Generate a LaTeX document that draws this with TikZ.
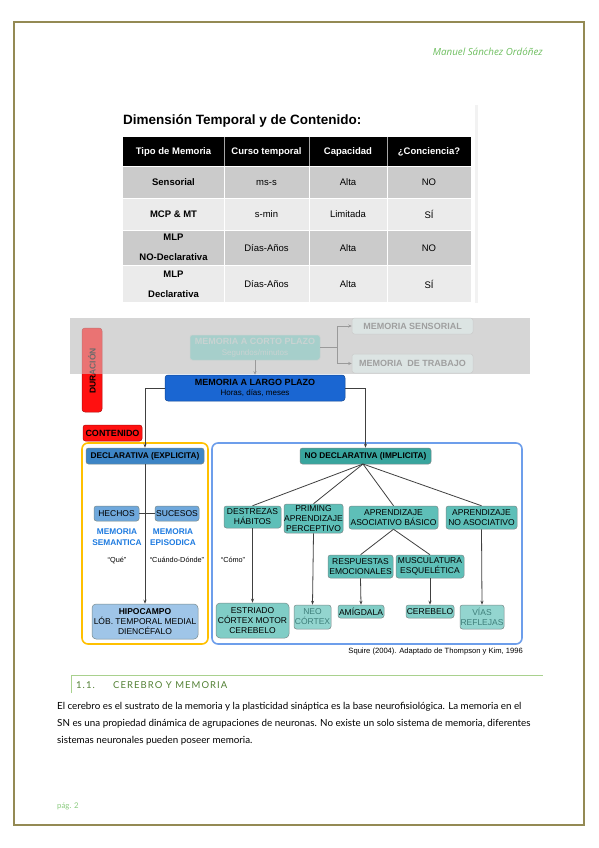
\documentclass[tikz,border=0pt]{standalone}
\usepackage{fontspec}
\setmainfont{Liberation Sans}
\newfontfamily\bodyfont{Lato}
\newfontfamily\hdrfont{Open Sans}
\usetikzlibrary{arrows.meta}
\definecolor{pageframe}{HTML}{948A54}
\definecolor{hdrgreen}{HTML}{6DBE5E}
\definecolor{secgreen}{HTML}{538135}
\definecolor{secline}{HTML}{A9D18E}
\definecolor{bandgray}{HTML}{D6D6D6}
\definecolor{rowdark}{HTML}{CBCBCB}
\definecolor{rowlight}{HTML}{EBEBEB}
\definecolor{redbox}{HTML}{FF1010}
\definecolor{mlpblue}{HTML}{1A66D2}
\definecolor{declblue}{HTML}{3D85C6}
\definecolor{midblue}{HTML}{6FA8DC}
\definecolor{lightblue}{HTML}{9FC5E8}
\definecolor{semblue}{HTML}{1E7BE0}
\definecolor{frameyellow}{HTML}{FFC000}
\definecolor{frameblue}{HTML}{6D9EEB}
\definecolor{tealdark}{HTML}{38A59E}
\definecolor{tealmid}{HTML}{5EBFB8}
\definecolor{teallight}{HTML}{80CDC6}
\definecolor{tealpale}{HTML}{93D5CF}
\definecolor{tealtext}{HTML}{3F7F7A}
\definecolor{bordergray}{HTML}{7A8A8A}
\definecolor{linegray}{HTML}{404040}
\definecolor{fadefill}{HTML}{A6CFCB}
\definecolor{fadetext}{HTML}{C9D3D2}
\definecolor{fadebox}{HTML}{DCE4E3}
\definecolor{fadeline}{HTML}{9A9A9A}
\begin{document}
\begin{tikzpicture}[x=1pt,y=-1pt,
  dbox/.style={draw=bordergray, line width=0.5pt, rounded corners=2.5pt, align=center, inner sep=0pt, font=\fontsize{8.5}{10}\selectfont},
  tealbox/.style={dbox, fill=tealmid},
  tbot/.style={dbox, fill=teallight},
  conn/.style={draw=linegray, line width=0.8pt},
  arr/.style={conn, -{Stealth[length=4pt,width=3pt]}},
  farr/.style={draw=fadeline, line width=0.7pt, -{Stealth[length=3.5pt,width=3pt]}},
  thdr/.style={text=white, font=\fontsize{9.5}{11}\selectfont\bfseries, align=center, inner sep=0pt},
  tcell/.style={font=\fontsize{9.5}{19.5}\selectfont, align=center, inner sep=0pt},
  tfirst/.style={tcell, font=\fontsize{9.5}{20}\selectfont\bfseries},
  lbl/.style={inner sep=0pt, align=center},
  bodytxt/.style={lbl, anchor=west, font=\bodyfont\fontsize{9.8}{11}\selectfont}
]
\useasboundingbox (0,0) rectangle (599,848);
\fill[white] (0,0) rectangle (599,848);
% page frame
\draw[pageframe, line width=2pt] (14,22) rectangle (584,825);
\node[lbl, anchor=east, text=hdrgreen, font=\hdrfont\itshape\fontsize{9.8}{10}\selectfont] (author) at (543,52) {Manuel Sánchez Ordóñez};

% ---------- table ----------
\fill[gray!10] (475,105) rectangle (478,303);
\node[lbl, anchor=west, font=\fontsize{13.5}{15}\selectfont\bfseries] (ttitle) at (123,121) {Dimensión Temporal y de Contenido:};
\fill[black] (123,137) rectangle (471,166);
\fill[rowdark] (123,166) rectangle (471,198);
\fill[rowlight] (123,198) rectangle (471,230);
\fill[rowdark] (123,230) rectangle (471,265);
\fill[rowlight] (123,265) rectangle (471,302);
\foreach \cx in {224,309,387}{
  \draw[gray!70, line width=0.8pt] (\cx,137) -- (\cx,166);
  \draw[white, line width=0.6pt] (\cx,166) -- (\cx,302);
}
\foreach \ry in {166,198,230,265}{\draw[white, line width=0.6pt] (123,\ry) -- (471,\ry);}
\node[thdr] (h1) at (173.5,152) {Tipo de Memoria};
\node[thdr] (h2) at (266.5,152) {Curso temporal};
\node[thdr] (h3) at (348,152) {Capacidad};
\node[thdr] (h4) at (429,152) {¿Conciencia?};
\node[tfirst] (r1c1) at (173.5,182.5) {Sensorial};
\node[tcell] (r1c2) at (266.5,182.5) {ms-s};
\node[tcell] (r1c3) at (348,182.5) {Alta};
\node[tcell] (r1c4) at (429,182.5) {NO};
\node[tfirst] (r2c1) at (173.5,214.5) {MCP \& MT};
\node[tcell] (r2c2) at (266.5,214.5) {s-min};
\node[tcell] (r2c3) at (348,214.5) {Limitada};
\node[tcell] (r2c4) at (429,214.5) {SÍ};
\node[tfirst] (r3c1) at (173.5,247.5) {MLP\\NO-Declarativa};
\node[tcell] (r3c2) at (266.5,248) {Días-Años};
\node[tcell] (r3c3) at (348,248) {Alta};
\node[tcell] (r3c4) at (429,248) {NO};
\node[tfirst] (r4c1) at (173.5,284) {MLP\\Declarativa};
\node[tcell] (r4c2) at (266.5,284.5) {Días-Años};
\node[tcell] (r4c3) at (348,284.5) {Alta};
\node[tcell] (r4c4) at (429,284.5) {SÍ};

% ---------- diagram ----------
\fill[bandgray] (70,318) rectangle (530,374);
\node[dbox, draw=fadebox!80!gray, fill=fadefill, text=fadetext, minimum width=130pt, minimum height=25pt, font=\fontsize{9}{10.5}\selectfont] (mcp) at (255,347.5) {\textbf{MEMORIA A CORTO PLAZO}\\{\fontsize{8}{9}\selectfont Segundos/minutos}};
\node[dbox, draw=gray!40, fill=fadebox, text=gray!75, minimum width=121pt, minimum height=16pt, font=\fontsize{9}{10}\selectfont\bfseries] (sens) at (412.5,326) {MEMORIA SENSORIAL};
\node[dbox, draw=gray!40, fill=fadebox, text=gray!75, minimum width=121pt, minimum height=19pt, font=\fontsize{9}{10}\selectfont\bfseries] (trab) at (412.5,363.5) {MEMORIA~ DE TRABAJO};
\coordinate (split) at (337,347.5);
\draw[draw=fadeline, line width=0.7pt] (mcp.east) -- (split);
\draw[farr] (split) |- (sens.west);
\draw[farr] (split) |- (trab.west);

\node[dbox, draw=redbox!70!black, fill=redbox, minimum width=20pt, minimum height=84pt, rounded corners=3pt] (dur) at (92,370) {};
\node[lbl, rotate=90, font=\fontsize{8.5}{10}\selectfont\bfseries] (durtxt) at (92,371) {DURACIÓN};
\fill[bandgray, opacity=0.5] (80,318) rectangle (104,374);

\node[dbox, draw=mlpblue!70!black, fill=mlpblue, minimum width=180pt, minimum height=26pt, rounded corners=3pt, font=\fontsize{9}{10.5}\selectfont] (mlp) at (255,388) {\textbf{MEMORIA A LARGO PLAZO}\\{\fontsize{8}{9}\selectfont Horas, días, meses}};
\draw[farr] (mcp.south) -- (mlp.north);

\node[dbox, draw=redbox!70!black, fill=redbox, minimum width=59pt, minimum height=16pt, font=\fontsize{9}{10}\selectfont\bfseries] (cont) at (112.5,433) {CONTENIDO};

% frames
\draw[frameyellow, line width=1.6pt, rounded corners=6pt] (82,443) rectangle (208,644);
\draw[frameblue, line width=1.6pt, rounded corners=6pt] (212,443) rectangle (522,644);

% declarative
\node[dbox, fill=declblue, minimum width=118pt, minimum height=16pt, font=\fontsize{8.3}{10}\selectfont\bfseries] (decl) at (145,456) {DECLARATIVA (EXPLICITA)};
\node[dbox, fill=midblue, minimum width=45pt, minimum height=15pt] (hech) at (116.5,513.5) {HECHOS};
\node[dbox, fill=midblue, minimum width=44pt, minimum height=15pt] (suc) at (177,513.5) {SUCESOS};
\node[lbl, text=semblue, font=\fontsize{8.3}{11}\selectfont\bfseries] (sem) at (117,537.5) {MEMORIA\\SEMANTICA};
\node[lbl, text=semblue, font=\fontsize{8.3}{11}\selectfont\bfseries] (epi) at (173,537.5) {MEMORIA\\EPISODICA};
\node[lbl, font=\fontsize{7.3}{9}\selectfont] (que) at (117,560) {“Qué”};
\node[lbl, font=\fontsize{7.3}{9}\selectfont] (cuando) at (177,560) {“Cuándo-Dónde”};
\node[lbl, font=\fontsize{7.3}{9}\selectfont] (como) at (233,560) {“Cómo”};
\node[dbox, fill=lightblue, minimum width=106pt, minimum height=35pt, rounded corners=4pt] (hipo) at (145,621.5) {\textbf{HIPOCAMPO}\\LÓB. TEMPORAL MEDIAL\\DIENCÉFALO};

% non-declarative
\node[dbox, fill=tealdark, minimum width=131pt, minimum height=16pt, font=\fontsize{8.3}{10}\selectfont\bfseries] (nodecl) at (365.5,456) {NO DECLARATIVA (IMPLICITA)};
\node[tealbox, minimum width=57pt, minimum height=22pt] (dest) at (252.5,517) {DESTREZAS\\HÁBITOS};
\node[tealbox, minimum width=59pt, minimum height=29pt] (prim) at (313.5,518.5) {PRIMING\\APRENDIZAJE\\PERCEPTIVO};
\node[tealbox, minimum width=89pt, minimum height=23pt] (asoc) at (393.5,517.5) {APRENDIZAJE\\ASOCIATIVO BÁSICO};
\node[tealbox, minimum width=71pt, minimum height=23pt] (noasoc) at (481.5,517.5) {APRENDIZAJE\\NO ASOCIATIVO};
\node[tealbox, minimum width=65pt, minimum height=23pt] (resp) at (360.5,566.5) {RESPUESTAS\\EMOCIONALES};
\node[tealbox, minimum width=68pt, minimum height=23pt] (musc) at (430,566.5) {MUSCULATURA\\ESQUELÉTICA};
\node[tbot, minimum width=73pt, minimum height=35pt, rounded corners=4pt] (estr) at (252.5,620.5) {ESTRIADO\\CÓRTEX MOTOR\\CEREBELO};
\node[dbox, fill=tealpale, text=tealtext, minimum width=37pt, minimum height=24pt] (neo) at (312.5,617) {NEO\\CÓRTEX};
\node[tbot, minimum width=46pt, minimum height=13pt] (amig) at (361,611.5) {AMÍGDALA};
\node[tbot, minimum width=48pt, minimum height=13pt] (cereb) at (430,611.5) {CEREBELO};
\node[dbox, fill=tealpale, text=tealtext, minimum width=44pt, minimum height=24pt] (vias) at (482,617) {VÍAS\\REFLEJAS};

% connectors
\draw[arr] (mlp.west) -| (decl.north);
\draw[arr] (mlp.east) -| (nodecl.north);
\draw[arr] (decl.south) -- (hipo.north);
\draw[conn] (hech.east) -- (suc.west);
\coordinate (ndb) at (363,464);
\draw[conn] (ndb) -- (dest.north);
\draw[conn] (ndb) -- (prim.north);
\draw[conn] (ndb) -- (asoc.north);
\draw[conn] (ndb) -- (noasoc.north);
\draw[conn] (asoc.south) -- (resp.north);
\draw[conn] (asoc.south) -- (musc.north);
\draw[arr] (dest.south) -- (estr.north);
\draw[arr] (prim.south) -- (neo.north);
\draw[arr] (resp.south) -- (amig.north);
\draw[arr] (musc.south) -- (cereb.north);
\draw[arr] (noasoc.south) -- (vias.north);

\node[lbl, anchor=east, font=\fontsize{7.6}{9}\selectfont] (src) at (523,652) {Squire (2004). Adaptado de Thompson y Kim, 1996};

% ---------- section ----------
\draw[secline, line width=1pt] (71,693) -- (71,675) -- (543,675);
\node[lbl, anchor=west, text=secgreen, font=\bodyfont\fontsize{9.5}{11}\selectfont\addfontfeatures{LetterSpace=11}] (secnum) at (76,685) {1.1.};
\node[lbl, anchor=west, text=secgreen, font=\bodyfont\fontsize{9.5}{11}\selectfont\addfontfeatures{LetterSpace=11}] (sectitle) at (113,685) {CEREBRO Y MEMORIA};
\node[bodytxt] (b1) at (57,707) {El cerebro es el sustrato de la memoria y la plasticidad sináptica es la base neurofisiológica. La memoria en el};
\node[bodytxt] (b2) at (57,724) {SN es una propiedad dinámica de agrupaciones de neuronas. No existe un solo sistema de memoria, diferentes};
\node[bodytxt] (b3) at (57,741) {sistemas neuronales pueden poseer memoria.};
\node[lbl, anchor=west, text=hdrgreen!80, font=\bodyfont\fontsize{7.8}{9}\selectfont] (pag) at (57,806) {pág. 2};
\end{tikzpicture}
\end{document}
